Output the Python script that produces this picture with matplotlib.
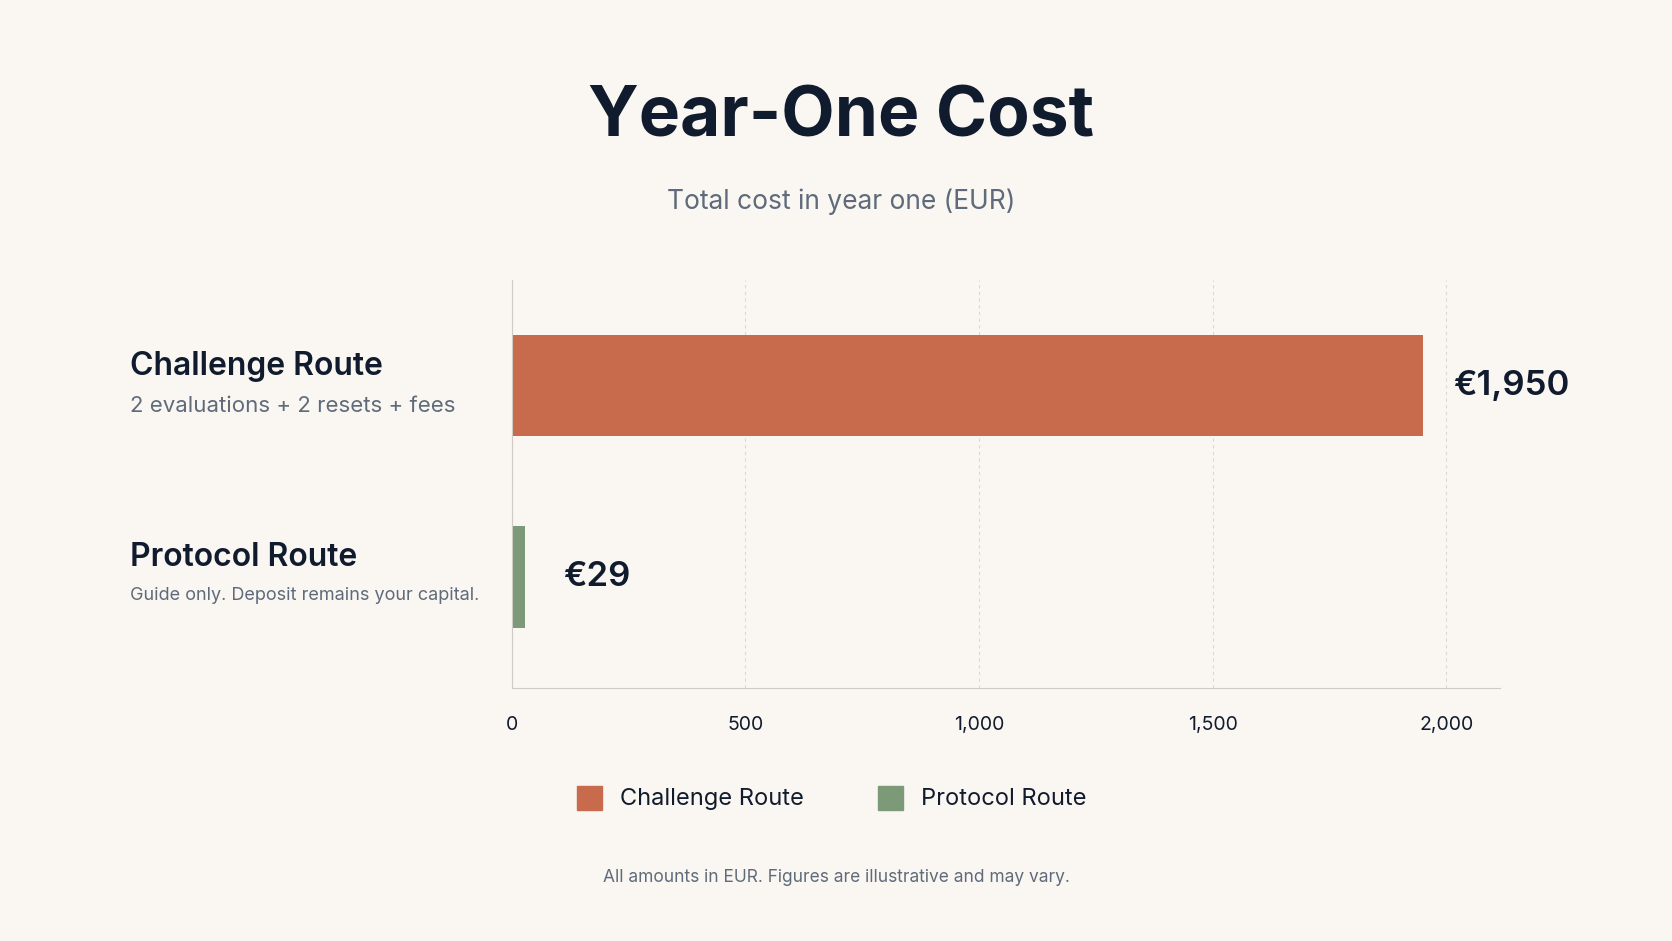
import matplotlib.pyplot as plt
from matplotlib.patches import Rectangle

routes = ["Challenge Route", "Protocol Route"]
details = ["2 evaluations + 2 resets + fees", "Guide only. Deposit remains your capital."]
costs = [1950, 29]
value_labels = ["€1,950", "€29"]
ticks = [0, 500, 1000, 1500, 2000]
tick_labels = ["0", "500", "1,000", "1,500", "2,000"]
colors = ["#C76B4C", "#7C9A78"]

BG = "#FAF7F3"
DARK = "#111B2E"
GREY = "#5F6B7A"

plt.rcParams["font.family"] = ["Inter", "DejaVu Sans"]

fig = plt.figure(figsize=(16.72, 9.41), dpi=100, facecolor=BG)
ax = fig.add_axes([0.306, 0.269, 0.591, 0.433], facecolor=BG)

ypos = list(range(len(routes)))
ax.barh(ypos, costs, height=0.53, color=colors)
ax.set_xlim(0, 2114)
ax.set_ylim(1.58, -0.55)

ax.set_xticks(ticks)
ax.set_xticklabels(tick_labels, fontsize=14, color=DARK)
ax.tick_params(axis="x", length=0, pad=20)
ax.set_yticks([])
ax.grid(axis="x", color="#DDD8D2", linestyle=(0, (3, 3)), linewidth=0.8)
ax.set_axisbelow(True)
for s in ["top", "right"]:
    ax.spines[s].set_visible(False)
ax.spines["left"].set_color("#CFCAC4")
ax.spines["bottom"].set_color("#CFCAC4")

for y, c, v in zip(ypos, costs, value_labels):
    ax.text(max(c, 46) + 65, y, v, va="center", ha="left", fontsize=25,
            fontweight="semibold", color=DARK)

sub_sizes = [16, 13]
for y, r, d, fs in zip(ypos, routes, details, sub_sizes):
    ax.annotate(r, xy=(0, y), xycoords=("axes fraction", "data"), xytext=(-382, 4),
                textcoords="offset pixels", fontsize=23, fontweight="semibold",
                color=DARK, va="bottom", ha="left")
    ax.annotate(d, xy=(0, y), xycoords=("axes fraction", "data"), xytext=(-382, -10),
                textcoords="offset pixels", fontsize=fs, color=GREY, va="top", ha="left")

fig.text(0.503, 0.875, "Year-One Cost", ha="center", va="center", fontsize=50,
         fontweight="bold", color=DARK)
fig.text(0.503, 0.786, "Total cost in year one (EUR)", ha="center", va="center",
         fontsize=19, color=GREY)

# legend
lx = [0.345, 0.525]
for x, r, col in zip(lx, routes, colors):
    fig.patches.append(Rectangle((x, 0.139), 0.015, 0.026, transform=fig.transFigure,
                                 color=col))
    fig.text(x + 0.026, 0.151, r, va="center", ha="left", fontsize=17, color=DARK)

fig.text(0.5, 0.067, "All amounts in EUR. Figures are illustrative and may vary.",
         ha="center", va="center", fontsize=12.5, color=GREY)

fig.savefig("out.png", dpi=100, facecolor=BG)
